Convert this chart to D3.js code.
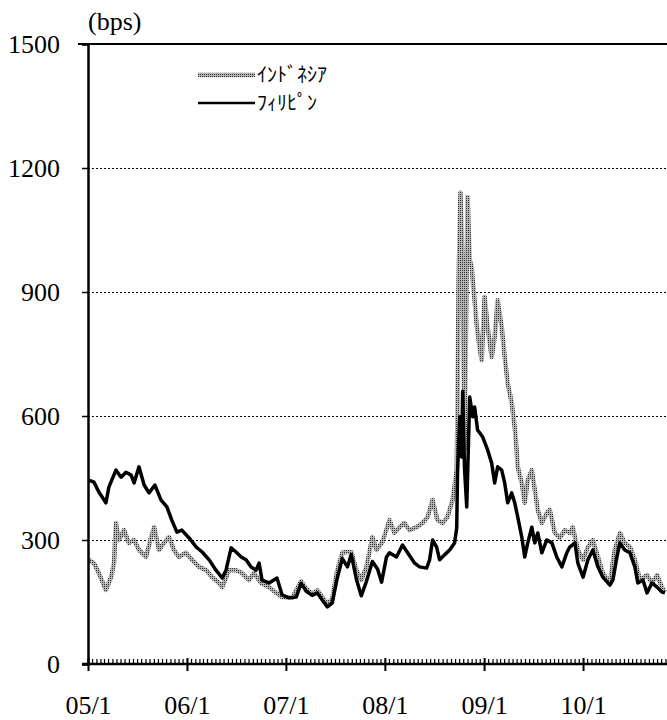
<!DOCTYPE html>
<html>
<head>
<meta charset="utf-8">
<script src="https://cdn.jsdelivr.net/npm/d3@7/dist/d3.min.js"></script>
<style>
  body { margin: 0; background: #fff; }
  svg { display: block; }
  .tick text { font-family: "Liberation Serif", "DejaVu Serif", serif; }
</style>
</head>
<body>
<div id="chart"></div>
<script>
// Sovereign CDS spreads (bps)
var phlDates = ["2005-01-04","2005-01-23","2005-02-10","2005-03-08","2005-03-19","2005-04-14","2005-05-03","2005-05-21",
  "2005-06-09","2005-06-20","2005-07-08","2005-07-27","2005-08-14","2005-09-05","2005-09-27","2005-10-19","2005-11-06",
  "2005-11-25","2005-12-13","2006-01-09","2006-02-04","2006-02-26","2006-03-24","2006-04-18","2006-05-11","2006-05-25",
  "2006-06-13","2006-07-01","2006-07-20","2006-08-07","2006-08-25","2006-09-13","2006-09-24","2006-10-05","2006-10-31",
  "2006-11-29","2006-12-18","2007-01-13","2007-02-08","2007-02-26","2007-03-17","2007-04-08","2007-04-27","2007-05-15",
  "2007-06-03","2007-06-21","2007-07-09","2007-07-28","2007-08-16","2007-08-30","2007-09-18","2007-10-06","2007-10-25",
  "2007-11-16","2007-12-05","2007-12-20","2008-01-07","2008-01-18","2008-02-13","2008-03-06","2008-03-25","2008-04-20",
  "2008-05-08","2008-06-03","2008-06-14","2008-06-25","2008-07-10","2008-07-21","2008-08-08","2008-08-27","2008-09-14",
  "2008-09-22","2008-09-25","2008-10-03","2008-10-10","2008-10-14","2008-10-21","2008-10-29","2008-11-09","2008-11-20",
  "2008-11-27","2008-12-08","2008-12-27","2009-01-14","2009-01-29","2009-02-09","2009-02-20","2009-03-07","2009-03-18",
  "2009-03-29","2009-04-13","2009-04-24","2009-05-05","2009-05-20","2009-05-31","2009-06-11","2009-06-26","2009-07-07",
  "2009-07-18","2009-08-02","2009-08-20","2009-09-08","2009-09-26","2009-10-15","2009-11-02","2009-11-13","2009-12-02",
  "2009-12-13","2010-01-01","2010-01-19","2010-02-06","2010-02-25","2010-03-15","2010-04-10","2010-04-21","2010-05-06",
  "2010-05-17","2010-06-04","2010-06-23","2010-07-11","2010-07-22","2010-08-10","2010-08-25","2010-09-12","2010-10-01",
  "2010-10-19","2010-10-30"];
var phlValues = [445,440,416,390,428,469,452,464,
  457,438,477,433,414,433,397,380,348,
  319,324,305,283,271,252,227,208,227,
  281,271,259,252,235,227,244,203,196,
  208,167,160,162,195,176,166,172,155,
  138,148,207,255,235,265,205,165,200,
  248,230,198,259,269,259,288,269,244,
  235,232,252,300,283,252,264,276,293,
  329,462,598,501,660,470,380,646,598,
  622,566,549,518,486,438,477,469,438,
  390,414,390,356,307,259,293,331,293,
  317,269,300,293,259,235,269,283,293,
  244,210,252,276,235,210,191,203,259,
  293,276,269,235,196,203,172,196,186,
  174,172];

var idnDates = ["2005-01-04","2005-01-23","2005-02-10","2005-03-08","2005-03-27","2005-04-07","2005-04-14","2005-04-25",
  "2005-05-14","2005-06-01","2005-06-20","2005-07-08","2005-08-03","2005-08-22","2005-09-02","2005-09-20","2005-10-08",
  "2005-10-27","2005-11-14","2005-12-02","2005-12-28","2006-01-20","2006-02-15","2006-03-13","2006-04-04","2006-04-29",
  "2006-05-11","2006-06-05","2006-07-01","2006-07-23","2006-08-18","2006-09-05","2006-10-01","2006-10-31","2006-11-26",
  "2006-12-18","2007-01-24","2007-02-26","2007-03-17","2007-04-08","2007-04-27","2007-05-15","2007-06-03","2007-06-21",
  "2007-07-09","2007-07-28","2007-08-12","2007-08-30","2007-09-18","2007-10-06","2007-10-25","2007-11-16","2007-12-01",
  "2007-12-23","2008-01-18","2008-02-05","2008-02-24","2008-03-13","2008-04-01","2008-04-27","2008-05-19","2008-06-07",
  "2008-06-25","2008-07-13","2008-08-01","2008-08-19","2008-09-07","2008-09-22","2008-09-25","2008-09-29","2008-10-06",
  "2008-10-14","2008-10-21","2008-11-01","2008-11-09","2008-11-16","2008-11-20","2008-11-27","2008-12-04","2008-12-15",
  "2008-12-23","2009-01-03","2009-01-14","2009-01-29","2009-02-09","2009-02-20","2009-03-07","2009-03-18","2009-03-29",
  "2009-04-13","2009-04-24","2009-05-01","2009-05-05","2009-05-20","2009-05-31","2009-06-11","2009-06-26","2009-07-07",
  "2009-07-18","2009-08-02","2009-08-20","2009-08-31","2009-09-19","2009-10-07","2009-10-26","2009-11-13","2009-11-24",
  "2009-12-13","2010-01-01","2010-01-19","2010-02-06","2010-02-25","2010-03-15","2010-04-10","2010-04-28","2010-05-17",
  "2010-06-04","2010-06-23","2010-07-11","2010-07-30","2010-08-25","2010-09-12","2010-10-01","2010-10-19","2010-10-30"];
var idnValues = [252,244,220,179,210,244,341,300,
  324,293,300,276,259,307,331,276,293,
  307,276,259,269,252,235,227,210,196,
  186,227,227,220,203,220,196,186,172,
  162,160,200,182,170,178,162,145,158,
  225,269,271,271,227,203,235,307,276,
  295,348,317,331,341,324,331,341,356,
  397,348,341,356,397,469,622,929,1140,
  946,520,1130,977,960,929,880,825,767,
  735,888,815,743,791,880,815,743,680,
  631,573,518,477,438,390,445,469,421,
  373,341,365,373,317,305,324,317,331,
  276,252,283,300,259,220,196,276,317,
  293,283,252,203,215,196,215,186,174];

var yTicks = [0, 300, 600, 900, 1200, 1500];
var gridValues = [300, 600, 900, 1200];
var xTickYears = [2005, 2006, 2007, 2008, 2009, 2010];
var xTickLabels = ["05/1", "06/1", "07/1", "08/1", "09/1", "10/1"];
var seriesNames = ["ｲﾝﾄﾞﾈｼｱ", "ﾌｨﾘﾋﾟﾝ"];

var width = 667, height = 720;
var parseDate = d3.timeParse("%Y-%m-%d");

var svg = d3.select("#chart").append("svg")
    .attr("width", width)
    .attr("height", height);

// stippled grey, like the scanned Indonesia line
var pat = svg.append("defs").append("pattern")
    .attr("id", "stipple")
    .attr("patternUnits", "userSpaceOnUse")
    .attr("width", 2)
    .attr("height", 2);
pat.append("rect").attr("width", 2).attr("height", 2).attr("fill", "#b4b4b4");
pat.append("rect").attr("width", 1).attr("height", 1).attr("fill", "#333");

var x = d3.scaleTime()
    .domain([new Date(2005, 0, 1), new Date(2011, 0, 1)])
    .range([88, 88 + 6 * 99]);

var y = d3.scaleLinear()
    .domain([0, 1500])
    .range([664, 44]);

// dotted gridlines
svg.append("g")
    .selectAll("line")
    .data(gridValues)
    .enter()
    .append("line")
    .attr("x1", x.range()[0])
    .attr("x2", width)
    .attr("y1", function(d) { return Math.round(y(d)) + 0.5; })
    .attr("y2", function(d) { return Math.round(y(d)) + 0.5; })
    .attr("stroke", "#000")
    .attr("stroke-width", 1)
    .attr("stroke-dasharray", "2,2");

// solid top frame at 1500
svg.append("line")
    .attr("x1", 78)
    .attr("x2", width)
    .attr("y1", y(1500))
    .attr("y2", y(1500))
    .attr("stroke", "#000")
    .attr("stroke-width", 2);

// lines
var line = d3.line()
    .x(function(d) { return x(d.date); })
    .y(function(d) { return y(d.value); });

var idn = idnDates.map(function(d, i) { return {date: parseDate(d), value: idnValues[i]}; });
var phl = phlDates.map(function(d, i) { return {date: parseDate(d), value: phlValues[i]}; });

svg.append("path")
    .datum(idn)
    .attr("fill", "none")
    .attr("stroke", "url(#stipple)")
    .attr("stroke-width", 4.5)
    .attr("stroke-linejoin", "round")
    .attr("d", line);

svg.append("path")
    .datum(phl)
    .attr("fill", "none")
    .attr("stroke", "#000")
    .attr("stroke-width", 3.5)
    .attr("stroke-linejoin", "round")
    .attr("d", line);

// y axis
var yAxis = d3.axisLeft(y)
    .tickValues(yTicks)
    .tickSize(6)
    .tickPadding(22)
    .tickFormat(d3.format("d"));

var yg = svg.append("g")
    .attr("transform", "translate(" + x.range()[0] + ",0)")
    .call(yAxis);
yg.select(".domain").attr("stroke-width", 2.5);
yg.selectAll(".tick line").attr("stroke-width", 1.5);
yg.selectAll(".tick text")
    .attr("font-size", 26)
    .attr("fill", "#000");

// x axis: half-month minor ticks pointing up, yearly major ticks crossing
var minorDates = [];
d3.timeMonth.range(x.domain()[0], x.domain()[1]).forEach(function(m) {
    minorDates.push(m, new Date(m.getFullYear(), m.getMonth(), 16));
});

var xAxisMinor = d3.axisBottom(x)
    .tickValues(minorDates)
    .tickSize(-5)
    .tickFormat("");

var xmin = svg.append("g")
    .attr("transform", "translate(0," + y(0) + ")")
    .call(xAxisMinor);
xmin.select(".domain").remove();
xmin.selectAll(".tick line").attr("stroke-width", 1.2);

var xAxis = d3.axisBottom(x)
    .tickValues(xTickYears.map(function(yr) { return new Date(yr, 0, 1); }))
    .tickSize(7)
    .tickPadding(25)
    .tickFormat(function(d, i) { return xTickLabels[i]; });

var xg = svg.append("g")
    .attr("transform", "translate(0," + y(0) + ")")
    .call(xAxis);
xg.select(".domain").remove();
xg.selectAll(".tick line")
    .attr("y1", -6)
    .attr("stroke-width", 2);
xg.selectAll(".tick text")
    .attr("font-size", 26)
    .attr("fill", "#000");

svg.append("line")
    .attr("x1", 82)
    .attr("x2", width)
    .attr("y1", y(0))
    .attr("y2", y(0))
    .attr("stroke", "#000")
    .attr("stroke-width", 2.5);

// unit label
svg.append("text")
    .attr("x", 88)
    .attr("y", 30)
    .attr("font-family", "Liberation Serif, DejaVu Serif, serif")
    .attr("font-size", 26)
    .text("(bps)");

// legend
var legend = svg.append("g");
var legendStrokes = ["url(#stipple)", "#000"];
var legendWidths = [4.5, 2.5];
seriesNames.forEach(function(name, i) {
    var ly = 75 + i * 28;
    legend.append("line")
        .attr("x1", 198)
        .attr("x2", 255)
        .attr("y1", ly)
        .attr("y2", ly)
        .attr("stroke", legendStrokes[i])
        .attr("stroke-width", legendWidths[i]);
    legend.append("text")
        .attr("x", 257)
        .attr("y", ly + 7)
        .attr("font-family", "Noto Sans CJK JP, sans-serif")
        .attr("font-size", 20)
        .text(name);
});
</script>
</body>
</html>
